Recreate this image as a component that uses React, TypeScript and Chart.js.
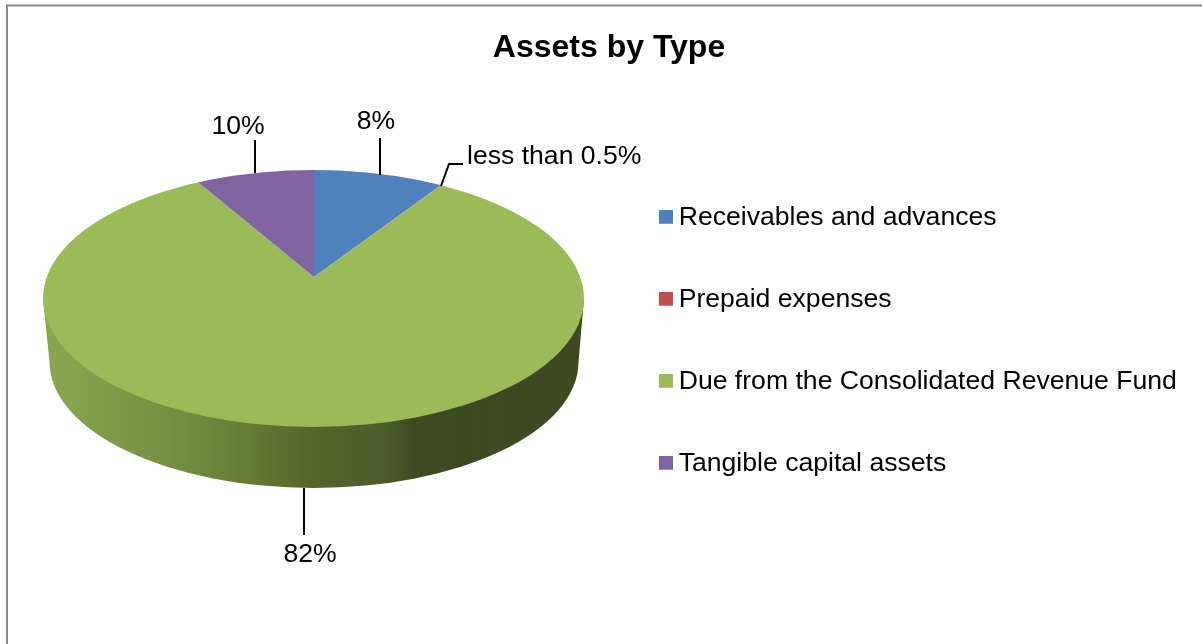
import React, { useEffect, useRef } from "react";
import { Chart, registerables } from "chart.js";

Chart.register(...registerables);

const categories = ["Receivables and advances", "Prepaid expenses", "Due from the Consolidated Revenue Fund", "Tangible capital assets"];
// Slice shares as they are drawn in the picture (the printed labels are kept separately).
const drawnShares = [9.15, 0.05, 82.5, 8.3];
const sliceColors = ["#4f81bd", "#c0504d", "#9bbb59", "#8064a2"];
const sliceLabels = ["8%", "less than 0.5%", "82%", "10%"];
const TITLE = "Assets by Type";

const FONT = "'Liberation Sans', Arial, sans-serif";
const LABEL_SIZE = 26.6;

const APEX = { x: 314, y: 277 };
const TILT = 0.47;
const TOP_FACE = { x: 313.5, y: 298.5, rx: 270.5, ry: 128.5 };
const BOTTOM_FACE = { x: 314, y: 362, rx: 264.5, ry: 126 };

const LABEL_LAYOUT = [
  { x: 376, y: 122, align: "center", line: [[380, 138], [380, 175]] },
  { x: 467, y: 157, align: "left", line: [[441, 186], [449, 164], [463, 164]] },
  { x: 310, y: 555, align: "center", line: [[304, 488], [304, 535]] },
  { x: 238, y: 127, align: "center", line: [[255, 140], [255, 173]] },
];

function swatch(color: string) {
  const c = document.createElement("canvas");
  c.width = 16;
  c.height = 16;
  const g = c.getContext("2d")!;
  g.fillStyle = color;
  g.fillRect(2, 0, 14, 14);
  return c;
}

const piePlugin = {
  id: "tiltedPie",
  beforeDraw(chart: any) {
    const { ctx } = chart;
    ctx.save();
    ctx.fillStyle = "#8c8c8c";
    ctx.fillRect(6, 4.5, 1196, 2);
    ctx.fillRect(6, 4.5, 2, 640);
    ctx.restore();
  },
  afterLayout(chart: any) {
    const lg = chart.legend;
    lg.left = 609;
    lg.right = 1202;
    lg.top = 149;
    lg.bottom = 644;
    const t = chart.titleBlock;
    t.left = 0;
    t.right = 1218;
  },
  beforeDatasetsDraw(chart: any) {
    const { ctx } = chart;
    const arc = chart.getDatasetMeta(0).data[0];
    const tf = TOP_FACE;
    const bf = BOTTOM_FACE;
    const wall = ctx.createLinearGradient(bf.x - bf.rx, 0, bf.x + bf.rx, 0);
    const stops: [number, string][] = [
      [0, "#8aa64f"],
      [0.28, "#6f8a3e"],
      [0.5, "#566529"],
      [0.63, "#4e5c2b"],
      [0.69, "#404a22"],
      [1, "#3f4921"],
    ];
    stops.forEach(([p, c]) => wall.addColorStop(p, c));
    ctx.save();
    ctx.beginPath();
    ctx.moveTo(tf.x - tf.rx, tf.y);
    ctx.lineTo(bf.x - bf.rx, bf.y);
    ctx.ellipse(bf.x, bf.y, bf.rx, bf.ry, 0, Math.PI, 0, true);
    ctx.lineTo(tf.x + tf.rx, tf.y);
    ctx.closePath();
    ctx.fillStyle = wall;
    ctx.fill();
    ctx.restore();

    ctx.save();
    ctx.beginPath();
    ctx.ellipse(tf.x, tf.y, tf.rx, tf.ry, 0, 0, Math.PI * 2);
    ctx.clip();
    ctx.translate(APEX.x, APEX.y);
    ctx.scale(1, TILT);
    ctx.translate(-arc.x, -arc.y);
  },
  afterDatasetsDraw(chart: any) {
    const { ctx } = chart;
    ctx.restore();
    ctx.save();
    ctx.strokeStyle = "#000";
    ctx.lineWidth = 2;
    ctx.fillStyle = "#000";
    ctx.font = `${LABEL_SIZE}px ${FONT}`;
    ctx.textBaseline = "middle";
    sliceLabels.forEach((text, i) => {
      const l = LABEL_LAYOUT[i];
      ctx.beginPath();
      l.line.forEach(([x, y], k) => (k ? ctx.lineTo(x, y) : ctx.moveTo(x, y)));
      ctx.stroke();
      ctx.textAlign = l.align;
      ctx.fillText(text, l.x, l.y);
    });
    ctx.restore();
  },
};

export default function App() {
  const ref = useRef<HTMLCanvasElement>(null);
  useEffect(() => {
    const chart = new Chart(ref.current!, {
      type: "pie",
      data: {
        labels: categories,
        datasets: [
          {
            data: drawnShares,
            backgroundColor: sliceColors,
            borderWidth: 0,
            clip: false,
            radius: 900,
          } as any,
        ],
      },
      plugins: [piePlugin],
      options: {
        animation: false,
        responsive: false,
        events: [],
        layout: { padding: 0 },
        plugins: {
          tooltip: { enabled: false },
          title: {
            display: true,
            text: TITLE,
            color: "#000",
            font: { family: FONT, size: 32, weight: "bold" },
            padding: { top: 29, bottom: 10 },
          },
          legend: {
            position: "right",
            align: "start",
            labels: {
              color: "#000",
              font: { family: FONT, size: LABEL_SIZE },
              padding: 55.4,
              usePointStyle: true,
              pointStyleWidth: 1,
              boxHeight: 14,
              generateLabels: (c: any) =>
                categories.map((text, i) => ({
                  text,
                  index: i,
                  fillStyle: sliceColors[i],
                  strokeStyle: sliceColors[i],
                  lineWidth: 0,
                  pointStyle: swatch(sliceColors[i]),
                })),
            },
          },
        },
      } as any,
    });
    return () => chart.destroy();
  }, []);
  return (
    <canvas
      ref={ref}
      width={1202}
      height={644}
      style={{ position: "absolute", left: 0, top: 0, width: 1202, height: 644, display: "block" }}
    />
  );
}
